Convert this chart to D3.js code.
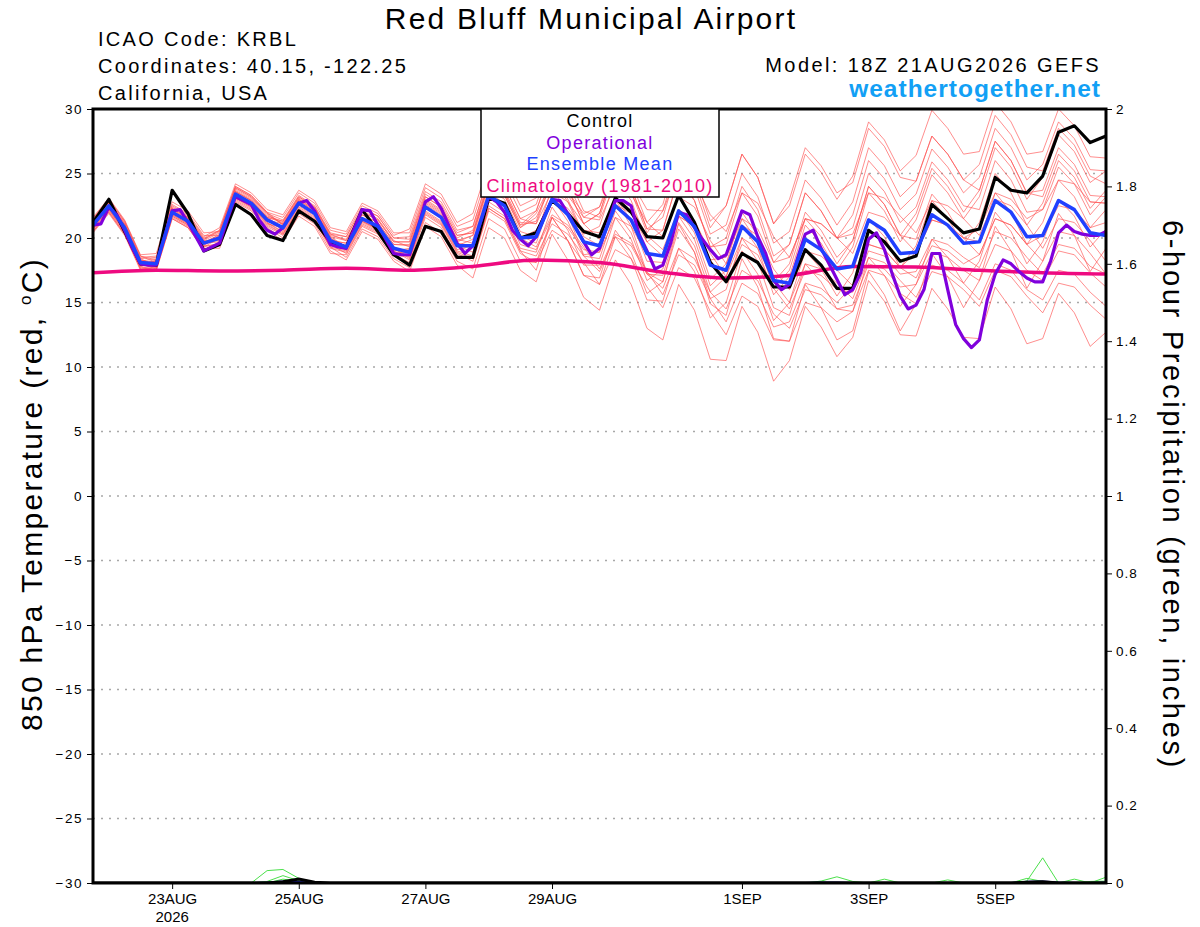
<!DOCTYPE html>
<html><head><meta charset="utf-8">
<script src="https://cdn.jsdelivr.net/npm/d3@7"></script>
<style>
body{margin:0;background:#fff}
svg{display:block}
text{font-family:"Liberation Sans",Arial,Helvetica,sans-serif}
</style>
</head><body>
<svg id="chart" width="1200" height="927"></svg>
<script>
// ---------------- DATA ----------------
const runStartUTC = "2026-08-21T18:00:00Z";   // 18Z 21AUG2026 GEFS
const stepHours = 6;                            // ensemble / control step
const opStepHours = 3;                          // operational step

const control = [21.2,23.0,20.5,18.0,17.9,23.7,21.9,19.0,19.5,22.6,21.8,20.2,19.8,22.1,21.3,19.7,19.3,22.2,20.5,18.7,17.9,20.9,20.5,18.5,18.5,23.1,22.7,20.0,20.4,22.9,21.9,20.5,20.1,23.1,22.0,20.1,20.0,23.3,21.2,18.1,16.6,18.8,18.1,16.2,16.2,19.1,17.9,16.1,16.1,20.6,19.7,18.2,18.6,22.6,21.5,20.4,20.7,24.7,23.7,23.5,24.8,28.2,28.7,27.4,27.9];

const ensembleMean = [21.0,22.5,20.8,18.1,18.0,22.0,21.3,19.6,20.0,23.4,22.7,21.4,20.8,22.7,21.9,19.8,19.3,21.5,20.9,19.2,18.9,22.4,21.6,19.4,19.4,23.3,22.5,20.0,20.1,23.0,21.8,19.7,19.4,22.5,21.4,18.8,18.6,22.1,20.9,17.9,17.5,20.9,19.7,16.7,16.5,19.9,19.1,17.6,17.8,21.4,20.6,18.8,18.9,21.8,21.0,19.6,19.7,22.9,22.0,20.1,20.2,22.9,22.2,20.4,20.2];

const operational = [21.0,21.1,22.4,21.8,20.6,19.2,18.0,17.9,17.9,20.0,22.1,22.2,21.2,20.1,19.0,19.3,19.6,21.5,23.2,22.9,22.6,21.4,20.6,20.3,20.8,21.8,22.7,22.9,22.1,20.8,19.5,19.3,19.2,20.7,22.2,22.1,21.0,19.9,18.8,18.7,18.7,20.7,22.8,23.2,22.3,20.9,19.6,18.8,19.4,21.3,23.2,22.8,22.0,20.6,19.9,19.4,20.1,21.6,23.0,22.9,21.9,20.8,19.7,18.7,19.2,21.0,22.9,22.9,22.5,20.3,19.0,17.6,17.9,19.6,22.0,21.8,20.8,19.9,19.1,18.4,18.7,20.4,22.1,21.8,20.1,18.8,16.7,16.0,16.4,18.4,20.3,20.6,19.2,18.0,16.8,15.6,16.0,17.3,19.9,20.4,19.1,17.2,15.5,14.5,14.8,16.0,18.8,18.8,16.0,13.3,12.2,11.5,12.1,15.2,17.2,18.3,18.0,17.4,16.9,16.6,16.6,18.2,20.4,21.0,20.5,20.3,20.2,20.2,20.5];

// daily climatology (1981-2010), one value per day at 18Z
const climatology = [17.3,17.5,17.45,17.5,17.65,17.5,17.8,18.3,18.1,17.35,16.9,17.1,17.8,17.75,17.5,17.3,17.2];

const ensembleMembers = [
[21.3,22.8,21.1,18.4,18.5,22.5,21.8,20.1,20.8,24.2,23.5,22.2,21.8,23.7,22.9,20.8,20.5,22.7,22.1,20.4,20.4,23.9,23.1,20.9,21.4,25.3,24.5,22.0,22.6,26.1,24.3,21.6,22.4,26.1,24.4,21.2,22.6,26.7,24.9,21.3,22.5,26.5,24.7,21.1,22.5,26.5,25.1,23.0,24.8,29.0,27.6,25.2,26.4,29.9,28.5,26.5,26.7,30.5,29.0,26.5,26.7,30.0,28.7,26.3,26.2],
[20.7,22.2,20.5,17.8,17.5,21.5,20.8,19.1,19.4,22.8,22.1,20.8,20.0,21.9,21.1,19.0,18.3,20.5,19.9,18.2,17.4,20.9,20.1,17.9,16.9,20.8,20.0,17.5,16.6,20.3,18.3,15.4,14.4,18.3,16.4,13.0,12.1,16.4,14.4,10.6,10.5,14.7,12.7,8.9,10.5,14.7,13.1,10.8,12.3,16.7,15.1,12.5,12.4,16.1,14.5,12.3,12.2,16.2,14.5,11.8,12.2,15.7,14.2,11.6,12.7],
[21.5,23.0,21.3,18.6,18.3,22.3,21.6,19.9,20.5,23.9,23.2,21.9,21.4,23.3,22.5,20.4,20.1,22.3,21.7,20.0,19.9,23.4,22.6,20.4,20.9,24.8,24.0,21.5,22.1,25.6,23.8,21.1,21.9,25.6,23.9,20.7,21.6,25.7,23.9,20.3,21.0,25.0,23.2,19.6,20.5,24.5,23.1,21.0,22.8,27.0,25.6,23.2,24.4,27.9,26.5,24.5,25.7,29.5,28.0,25.5,25.2,28.5,27.2,24.8,24.2],
[20.5,22.0,20.3,17.6,17.7,21.7,21.0,19.3,19.6,23.0,22.3,21.0,20.3,22.2,21.4,19.3,18.5,20.7,20.1,18.4,17.7,21.2,20.4,18.2,17.6,21.5,20.7,18.2,18.1,20.6,19.8,18.1,16.4,19.1,18.4,16.2,14.6,17.7,16.9,14.3,12.5,15.5,14.7,12.1,12.0,15.0,14.6,13.5,14.3,17.5,17.1,15.7,14.9,17.4,17.0,16.0,14.7,17.5,17.0,15.5,14.2,16.5,16.2,14.8,13.7],
[21.2,22.7,21.0,18.3,18.0,22.0,21.3,19.6,20.3,23.7,23.0,21.7,21.3,23.2,22.4,20.3,19.8,22.0,21.4,19.7,19.7,23.2,22.4,20.2,20.4,24.3,23.5,21.0,21.3,24.8,23.0,20.3,20.9,24.6,22.9,19.7,20.6,24.7,22.9,19.3,20.0,24.0,22.2,18.6,19.5,23.5,22.1,20.0,20.8,25.0,23.6,21.2,22.4,25.9,24.5,22.5,22.2,26.0,24.5,22.0,22.2,25.5,24.2,21.8,23.2],
[20.8,22.3,20.6,17.9,18.2,22.2,21.5,19.8,19.8,23.2,22.5,21.2,20.5,22.4,21.6,19.5,18.8,21.0,20.4,18.7,18.1,21.6,20.8,18.6,18.4,22.3,21.5,19.0,18.6,21.1,20.3,18.6,17.4,20.1,19.4,17.2,16.1,19.2,18.4,15.8,14.5,17.5,16.7,14.1,13.0,16.0,15.6,14.5,14.8,18.0,17.6,16.2,16.4,18.9,18.5,17.5,16.7,19.5,19.0,17.5,16.7,19.0,18.7,17.3,16.2],
[21.4,22.9,21.2,18.5,18.6,22.6,21.9,20.2,20.2,23.6,22.9,21.6,20.8,22.7,21.9,19.8,19.6,21.8,21.2,19.5,19.4,22.9,22.1,19.9,19.6,23.5,22.7,20.2,19.6,23.1,21.3,18.6,18.4,22.1,20.4,17.2,17.1,21.2,19.4,15.8,17.0,21.0,19.2,15.6,17.0,21.0,19.6,17.5,19.3,23.5,22.1,19.7,21.4,24.9,23.5,21.5,23.2,27.0,25.5,23.0,24.7,28.0,26.7,24.3,25.2],
[20.6,22.1,20.4,17.7,17.8,21.8,21.1,19.4,20.2,23.6,22.9,21.6,21.2,23.1,22.3,20.2,19.9,22.1,21.5,19.8,19.3,22.8,22.0,19.8,20.2,24.1,23.3,20.8,21.6,24.1,23.3,21.6,21.4,24.1,23.4,21.2,20.1,23.2,22.4,19.8,18.0,21.0,20.2,17.6,16.0,19.0,18.6,17.5,16.3,19.5,19.1,17.7,16.9,19.4,19.0,18.0,18.7,21.5,21.0,19.5,20.2,22.5,22.2,20.8,21.2],
[21.1,22.6,20.9,18.2,18.4,22.4,21.7,20.0,20.6,24.0,23.3,22.0,21.6,23.5,22.7,20.6,20.3,22.5,21.9,20.2,20.7,24.2,23.4,21.2,21.9,25.8,25.0,22.5,23.1,26.6,24.8,22.1,21.6,25.3,23.6,20.4,22.1,26.2,24.4,20.8,22.5,26.5,24.7,21.1,23.0,27.0,25.6,23.5,24.3,28.5,27.1,24.7,24.4,27.9,26.5,24.5,23.7,27.5,26.0,23.5,23.2,26.5,25.2,22.8,22.7],
[20.9,22.4,20.7,18.0,17.6,21.6,20.9,19.2,19.2,22.6,21.9,20.6,19.8,21.7,20.9,18.8,18.7,20.9,20.3,18.6,18.6,22.1,21.3,19.1,19.4,23.3,22.5,20.0,20.6,23.1,22.3,20.6,20.4,23.1,22.4,20.2,19.1,22.2,21.4,18.8,17.0,20.0,19.2,16.6,15.0,18.0,17.6,16.5,15.3,18.5,18.1,16.7,15.4,17.9,17.5,16.5,15.2,18.0,17.5,16.0,15.2,17.5,17.2,15.8,14.7],
[21.6,23.1,21.4,18.7,18.8,22.8,22.1,20.4,20.5,23.9,23.2,21.9,21.0,22.9,22.1,20.0,19.3,21.5,20.9,19.2,18.4,21.9,21.1,18.9,18.4,22.3,21.5,19.0,17.5,21.6,19.8,17.1,16.4,20.1,18.4,15.2,15.1,19.2,17.4,13.8,15.0,19.0,17.2,13.6,15.0,19.0,17.6,15.5,17.3,21.5,20.1,17.7,19.4,22.9,21.5,19.5,21.2,25.0,23.5,21.0,22.7,26.0,24.7,22.3,23.7],
[20.4,21.9,20.2,17.5,17.5,21.5,20.8,19.1,19.7,23.1,22.4,21.1,20.8,22.7,21.9,19.8,19.6,21.8,21.2,19.5,19.5,23.0,22.2,20.0,20.6,24.5,23.7,21.2,21.1,23.6,22.8,21.1,19.9,22.6,21.9,19.7,18.6,21.7,20.9,18.3,18.5,21.5,20.7,18.1,18.5,21.5,21.1,20.0,20.3,23.5,23.1,21.7,20.4,22.9,22.5,21.5,20.2,23.0,22.5,21.0,19.2,21.5,21.2,19.8,18.2],
[21.0,22.5,20.8,18.1,18.2,22.2,21.5,19.8,20.4,23.8,23.1,21.8,21.1,23.0,22.2,20.1,19.3,21.5,20.9,19.2,18.5,22.0,21.2,19.0,18.6,22.5,21.7,19.2,18.9,22.4,20.6,17.9,17.9,21.6,19.9,16.7,17.6,21.7,19.9,16.3,17.5,21.5,19.7,16.1,17.5,21.5,20.1,18.0,19.8,24.0,22.6,20.2,21.9,25.4,24.0,22.0,23.7,27.5,26.0,23.5,23.7,27.0,25.7,23.3,23.2],
[21.3,22.8,21.1,18.4,17.8,21.8,21.1,19.4,19.5,22.9,22.2,20.9,20.2,22.1,21.3,19.2,18.9,21.1,20.5,18.8,18.9,22.4,21.6,19.4,19.9,23.8,23.0,20.5,20.1,24.0,21.8,18.7,18.9,23.0,20.9,17.3,16.6,21.1,18.9,14.9,14.0,18.4,16.2,12.2,12.0,16.4,14.6,12.1,12.8,17.4,15.6,12.8,14.9,18.8,17.0,14.6,16.7,20.9,19.0,16.1,18.2,21.9,20.2,17.4,19.2],
[20.7,22.2,20.5,17.8,18.1,22.1,21.4,19.7,20.2,23.6,22.9,21.6,21.3,23.2,22.4,20.3,20.1,22.3,21.7,20.0,20.1,23.6,22.8,20.6,20.9,24.8,24.0,21.5,21.1,24.6,22.8,20.1,19.4,23.1,21.4,18.2,18.1,22.2,20.4,16.8,18.0,22.0,20.2,16.6,18.0,22.0,20.6,18.5,19.8,24.0,22.6,20.2,19.9,23.4,22.0,20.0,19.7,23.5,22.0,19.5,21.2,24.5,23.2,20.8,22.2],
[21.2,22.7,21.0,18.3,17.9,21.9,21.2,19.5,20.0,23.4,22.7,21.4,20.6,22.5,21.7,19.6,19.1,21.3,20.7,19.0,19.2,22.7,21.9,19.7,20.2,24.1,23.3,20.8,21.9,24.4,23.6,21.9,22.4,25.1,24.4,22.2,22.1,25.2,24.4,21.8,20.5,23.5,22.7,20.1,18.5,21.5,21.1,20.0,18.8,22.0,21.6,20.2,18.9,21.4,21.0,20.0,18.7,21.5,21.0,19.5,18.2,20.5,20.2,18.8,17.2],
[20.8,22.3,20.6,17.9,18.3,22.3,21.6,19.9,20.6,24.0,23.3,22.0,21.0,22.9,22.1,20.0,19.1,21.3,20.7,19.0,18.3,21.8,21.0,18.8,18.2,22.1,21.3,18.8,18.1,21.6,19.8,17.1,16.9,20.6,18.9,15.7,16.6,20.7,18.9,15.3,16.0,20.0,18.2,14.6,14.0,18.0,16.6,14.5,14.3,18.5,17.1,14.7,16.4,19.9,18.5,16.5,18.2,22.0,20.5,18.0,19.7,23.0,21.7,19.3,20.7],
[21.5,23.0,21.3,18.6,18.1,22.1,21.4,19.7,19.8,23.2,22.5,21.2,20.4,22.3,21.5,19.4,19.1,21.3,20.7,19.0,19.1,22.6,21.8,19.6,19.4,23.3,22.5,20.0,19.3,21.8,21.0,19.3,17.6,20.3,19.6,17.4,15.6,18.7,17.9,15.3,13.5,16.5,15.7,13.1,13.5,16.5,16.1,15.0,16.3,19.5,19.1,17.7,18.9,21.4,21.0,20.0,20.7,23.5,23.0,21.5,22.2,24.5,24.2,22.8,22.7],
[20.5,22.0,20.3,17.6,17.7,21.7,21.0,19.3,20.0,23.4,22.7,21.4,21.1,23.0,22.2,20.1,19.8,22.0,21.4,19.7,19.7,23.2,22.4,20.2,20.4,24.3,23.5,21.0,22.1,25.6,23.8,21.1,21.9,25.6,23.9,20.7,20.6,24.7,22.9,19.3,19.5,23.5,21.7,18.1,19.5,23.5,22.1,20.0,21.8,26.0,24.6,22.2,23.4,26.9,25.5,23.5,24.7,28.5,27.0,24.5,25.7,29.0,27.7,25.3,25.2],
[21.0,22.5,20.8,18.1,18.0,22.0,21.3,19.6,19.7,23.1,22.4,21.1,20.3,22.2,21.4,19.3,19.0,21.2,20.6,18.9,18.9,22.4,21.6,19.4,18.9,22.8,22.0,19.5,19.1,21.6,20.8,19.1,18.9,21.6,20.9,18.7,18.6,21.7,20.9,18.3,16.5,19.5,18.7,16.1,14.5,17.5,17.1,16.0,15.8,19.0,18.6,17.2,17.4,19.9,19.5,18.5,17.7,20.5,20.0,18.5,17.2,19.5,19.2,17.8,17.2]
];

// 6-hour precipitation (inches)
const precipMembers = [
[0,0,0,0,0,0,0,0,0,0, 0,0.032,0.035,0.012,0,0,0,0,0,0, 0,0,0,0,0,0,0,0,0,0, 0,0,0,0,0,0,0,0,0,0, 0,0,0,0,0,0,0.005,0.016,0.004,0, 0,0,0,0,0,0,0,0,0,0, 0,0,0,0,0],
[0,0,0,0,0,0,0,0,0,0, 0,0.004,0.019,0.006,0,0,0,0,0,0, 0,0,0,0,0,0,0,0,0,0, 0,0,0,0,0,0,0,0,0,0, 0,0,0,0,0,0,0,0,0,0, 0,0,0,0,0,0,0,0,0,0.005, 0.065,0,0,0,0],
[0,0,0,0,0,0,0,0,0,0, 0,0,0.010,0.004,0,0,0,0,0,0, 0,0,0,0,0,0,0,0,0,0, 0,0,0,0,0,0,0,0,0,0, 0,0,0,0,0,0,0,0,0,0, 0.010,0,0,0,0,0,0,0,0,0.012, 0.004,0,0.010,0,0.015],
[0,0,0,0,0,0,0,0,0,0, 0,0,0,0,0,0,0,0,0,0, 0,0,0,0,0,0,0,0,0,0, 0,0,0,0,0,0,0,0,0,0, 0,0,0,0,0,0,0,0,0,0, 0,0,0,0,0.008,0,0,0,0,0, 0,0,0,0.004,0.005]
];
const precipControl = [0,0,0,0,0,0,0,0,0,0, 0,0,0.003,0.010,0.002,0,0,0,0,0, 0,0,0,0,0,0,0,0,0,0, 0,0,0,0,0,0,0,0,0,0, 0,0,0,0,0,0,0,0,0,0, 0,0,0,0,0,0,0,0,0,0.002, 0.003,0,0,0,0];
const precipMean = [0,0,0,0,0,0,0,0,0,0, 0,0.001,0.004,0.003,0,0,0,0,0,0, 0,0,0,0,0,0,0,0,0,0, 0,0,0,0,0,0,0,0,0,0, 0,0,0,0,0,0,0.001,0.001,0,0, 0,0,0,0,0,0,0,0,0,0.003, 0.004,0.001,0,0,0.001];

const tempTicks = [30,25,20,15,10,5,0,-5,-10,-15,-20,-25,-30];
const precipTicks = [0,0.2,0.4,0.6,0.8,1,1.2,1.4,1.6,1.8,2];
const dateTicks = ["2026-08-23","2026-08-25","2026-08-27","2026-08-29","2026-09-01","2026-09-03","2026-09-05"];
const dateTickLabels = ["23AUG","25AUG","27AUG","29AUG","1SEP","3SEP","5SEP"];
const yearLabel = "2026";

const titleText = "Red Bluff Municipal Airport";
const infoLines = ["ICAO Code: KRBL","Coordinates: 40.15, -122.25","California, USA"];
const modelText = "Model: 18Z 21AUG2026 GEFS";
const siteText = "weathertogether.net";
const legendItems = [
  {label:"Control", color:"#000000"},
  {label:"Operational", color:"#8000dc"},
  {label:"Ensemble Mean", color:"#2040ff"},
  {label:"Climatology (1981-2010)", color:"#ee0a80"}
];

// ---------------- CHART ----------------
const svg = d3.select("#chart");
const L = 93, R = 1106, T = 109, B = 883;
const HOUR = 3600e3;
const t0 = new Date(runStartUTC);
const t6 = i => new Date(+t0 + i*stepHours*HOUR);
const t3 = i => new Date(+t0 + i*opStepHours*HOUR);
const tEnd = t6(control.length-1);

const x = d3.scaleUtc().domain([t0, tEnd]).range([L, R]);
const y = d3.scaleLinear().domain([-30, 30]).range([B, T]);
const yP = d3.scaleLinear().domain([0, 2]).range([B, T]);

svg.append("rect").attr("width",1200).attr("height",927).attr("fill","#fff");

svg.append("defs").append("clipPath").attr("id","plotclip")
  .append("rect").attr("x",L).attr("y",T).attr("width",R-L).attr("height",B-T);

// grid
svg.append("g").selectAll("line").data(tempTicks.filter(d=>d>-30 && d<30)).join("line")
  .attr("x1",L).attr("x2",R).attr("y1",d=>y(d)).attr("y2",d=>y(d))
  .attr("stroke","#a8a8a8").attr("stroke-width",1.3).attr("stroke-dasharray","2,6");

const plot = svg.append("g").attr("clip-path","url(#plotclip)");

const line6 = d3.line().x((d,i)=>x(t6(i))).y(d=>y(d));
const line3 = d3.line().x((d,i)=>x(t3(i))).y(d=>y(d));
const lineP = d3.line().x((d,i)=>x(t6(i))).y(d=>yP(d));
const lineClim = d3.line().x((d,i)=>x(new Date(+t0 + i*24*HOUR))).y(d=>y(d)).curve(d3.curveMonotoneX);

// precipitation
plot.append("g").selectAll("path").data(precipMembers).join("path")
  .attr("d",lineP).attr("fill","none").attr("stroke","#4be04b").attr("stroke-width",1);
plot.append("path").attr("d",lineP(precipMean)).attr("fill","none").attr("stroke","#1a1aa8").attr("stroke-width",2);
plot.append("path").attr("d",lineP(precipControl)).attr("fill","none").attr("stroke","#000").attr("stroke-width",3);

// ensemble members
plot.append("g").selectAll("path").data(ensembleMembers).join("path")
  .attr("d",line6).attr("fill","none").attr("stroke","#ff5050").attr("stroke-opacity",0.72).attr("stroke-width",0.9);

plot.append("path").attr("d",lineClim(climatology)).attr("fill","none").attr("stroke",legendItems[3].color).attr("stroke-width",3.5);
plot.append("path").attr("d",line6(control)).attr("fill","none").attr("stroke",legendItems[0].color).attr("stroke-width",3.2).attr("stroke-linejoin","round");
plot.append("path").attr("d",line3(operational)).attr("fill","none").attr("stroke",legendItems[1].color).attr("stroke-width",3.2).attr("stroke-linejoin","round");
plot.append("path").attr("d",line6(ensembleMean)).attr("fill","none").attr("stroke",legendItems[2].color).attr("stroke-width",3.5).attr("stroke-linejoin","round");

// axes
const axL = svg.append("g").attr("transform",`translate(${L},0)`)
  .call(d3.axisLeft(y).tickValues(tempTicks).tickSize(6).tickPadding(4).tickFormat(d3.format("d")));
const axR = svg.append("g").attr("transform",`translate(${R},0)`)
  .call(d3.axisRight(yP).tickValues(precipTicks).tickSize(6).tickPadding(4).tickFormat(d=>String(+d.toFixed(1))));
const axB = svg.append("g").attr("transform",`translate(0,${B})`)
  .call(d3.axisBottom(x).tickValues(dateTicks.map(d=>new Date(d+"T00:00:00Z"))).tickSize(6).tickPadding(4)
    .tickFormat((d,i)=>dateTickLabels[i]));
[axL,axR,axB].forEach(g=>{
  g.select(".domain").remove();
  g.selectAll(".tick line").attr("stroke","#000").attr("stroke-width",1);
  g.selectAll(".tick text").attr("fill","#000").attr("font-family","Liberation Sans, Arial, sans-serif");
});
axL.selectAll(".tick text").attr("font-size",13.5).attr("letter-spacing","1.5px");
axR.selectAll(".tick text").attr("font-size",13.5).attr("letter-spacing","1px");
axB.selectAll(".tick text").attr("font-size",15).attr("dy","0.71em");
axB.append("text").attr("x",x(new Date(dateTicks[0]+"T00:00:00Z"))).attr("y",39)
  .attr("text-anchor","middle").attr("font-size",15).attr("fill","#000").text(yearLabel);

// frame
svg.append("rect").attr("x",L).attr("y",T).attr("width",R-L).attr("height",B-T)
  .attr("fill","none").attr("stroke","#000").attr("stroke-width",3);

// legend
const lg = svg.append("g");
lg.append("rect").attr("x",481).attr("y",T).attr("width",238).attr("height",88)
  .attr("fill","#fff").attr("stroke","#000").attr("stroke-width",1.5);
lg.selectAll("text").data(legendItems).join("text")
  .attr("x",600).attr("y",(d,i)=>127+i*21.5).attr("text-anchor","middle")
  .attr("font-size",18).attr("letter-spacing","1.3px").attr("fill",d=>d.color).text(d=>d.label);

// titles
svg.append("text").attr("x",591).attr("y",29).attr("text-anchor","middle")
  .attr("font-size",30).attr("letter-spacing","2.2px").attr("fill","#000").text(titleText);
svg.selectAll(".info").data(infoLines).join("text").attr("class","info")
  .attr("x",98).attr("y",(d,i)=>46+i*27).attr("font-size",20).attr("letter-spacing","2.3px")
  .attr("fill","#000").text(d=>d);
svg.append("text").attr("x",1101).attr("y",72).attr("text-anchor","end")
  .attr("font-size",20).attr("letter-spacing","2.4px").attr("fill","#000").text(modelText);
svg.append("text").attr("x",1101).attr("y",97).attr("text-anchor","end")
  .attr("font-size",24.5).attr("font-weight","bold").attr("letter-spacing","1px").attr("fill","#12a0f5").text(siteText);

// axis titles
const lt = svg.append("text").attr("transform","translate(42,494) rotate(-90)").attr("text-anchor","middle")
  .attr("font-size",30).attr("letter-spacing","2.3px").attr("fill","#000");
lt.append("tspan").text("850 hPa Temperature (red, ");
lt.append("tspan").attr("font-size",17).attr("dy",-11).text("o");
lt.append("tspan").attr("dy",11).text("C)");
svg.append("text").attr("transform","translate(1163,495) rotate(90)").attr("text-anchor","middle")
  .attr("font-size",29).attr("letter-spacing","2.7px").attr("fill","#000")
  .text("6-hour Precipitation (green, inches)");
</script>
</body></html>
